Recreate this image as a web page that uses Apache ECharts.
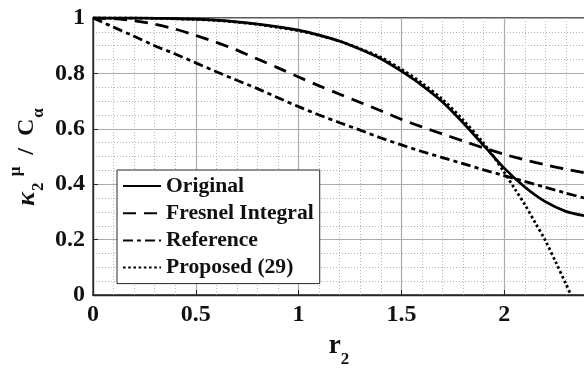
<!DOCTYPE html>
<html>
<head>
<meta charset="utf-8">
<script src="https://cdn.jsdelivr.net/npm/echarts@6/dist/echarts.min.js"></script>
<style>
  html, body { margin: 0; padding: 0; background: #fff; }
  #chart { width: 584px; height: 369px; }
</style>
</head>
<body>
<div id="chart"></div>
<script>
// Normalised curvature kappa_2^mu / C_alpha versus r_2 for four evaluations.
const rGrid = [0, 0.1, 0.2, 0.3, 0.4, 0.5, 0.6, 0.7, 0.8, 0.9, 1.0, 1.1, 1.2,
  1.3, 1.4, 1.5, 1.6, 1.7, 1.8, 1.9, 2.0, 2.1, 2.2, 2.3, 2.4];
const original = [1, 1, 1, 0.999, 0.998, 0.996, 0.992, 0.986, 0.978, 0.968,
  0.956, 0.938, 0.916, 0.887, 0.853, 0.808, 0.757, 0.697, 0.622, 0.540,
  0.458, 0.390, 0.337, 0.302, 0.285];
const fresnel = [1, 0.998, 0.990, 0.978, 0.960, 0.937, 0.912, 0.884, 0.852,
  0.820, 0.787, 0.755, 0.725, 0.695, 0.665, 0.634, 0.607, 0.581, 0.556,
  0.531, 0.508, 0.488, 0.470, 0.454, 0.440];
const reference = [1, 0.967, 0.934, 0.900, 0.870, 0.838, 0.806, 0.775, 0.745,
  0.712, 0.680, 0.650, 0.622, 0.595, 0.567, 0.542, 0.518, 0.496, 0.474,
  0.452, 0.431, 0.410, 0.389, 0.368, 0.348];
// The approximation (29) leaves the exact curve near r_2 = 2 and drops to zero.
const rProposed = [0, 0.1, 0.2, 0.3, 0.4, 0.5, 0.6, 0.7, 0.8, 0.9, 1.0, 1.1,
  1.2, 1.3, 1.4, 1.5, 1.6, 1.7, 1.8, 1.9, 1.95, 2.0, 2.05, 2.1, 2.15, 2.2,
  2.25, 2.3, 2.325];
const proposed = [1, 1, 1, 0.999, 0.997, 0.995, 0.991, 0.985, 0.977, 0.966,
  0.954, 0.937, 0.916, 0.889, 0.858, 0.815, 0.765, 0.706, 0.632, 0.548,
  0.498, 0.443, 0.385, 0.327, 0.262, 0.197, 0.120, 0.040, 0];
const xTicks = [0, 0.5, 1, 1.5, 2];
const yTicks = [0, 0.2, 0.4, 0.6, 0.8, 1];

const FONT = "'Liberation Serif', 'Times New Roman', serif";
const INK = '#111';
const pairs = (xs, ys) => xs.map((x, i) => [x, ys[i]]);

function lineSeries(name, xs, ys, dash) {
  return {
    name: name,
    type: 'line',
    data: pairs(xs, ys),
    showSymbol: false,
    symbol: 'none',
    smooth: 0.3,
    clip: true,
    lineStyle: { color: '#000', width: 2.8, type: dash, cap: 'butt' },
    itemStyle: { color: '#000' },
    emphasis: { disabled: true },
    animation: false
  };
}

const chart = echarts.init(document.getElementById('chart'), null, { renderer: 'canvas' });
chart.setOption({
  animation: false,
  backgroundColor: '#fff',
  // the axes run to r_2 = 2.5; the frame is wider than the canvas, so the view stops near 2.38
  grid: {
    left: 93, width: 514, top: 18, bottom: 74,
    outerBoundsMode: 'none', containLabel: false,
    show: true, borderColor: '#262626', borderWidth: 1.3, backgroundColor: 'transparent'
  },
  xAxis: {
    type: 'value', min: 0, max: 2.5, interval: 0.5,
    axisLine: { show: true, onZero: false, lineStyle: { color: '#262626', width: 1.3 } },
    axisTick: { show: true, inside: true, length: 5, lineStyle: { color: '#262626' } },
    axisLabel: {
      margin: 8, color: INK, fontFamily: FONT, fontWeight: 'bold', fontSize: 24,
      formatter: v => (xTicks.includes(Math.round(v * 10) / 10) ? String(v) : '')
    },
    splitLine: { show: true, lineStyle: { color: '#ababab', width: 1.2 } },
    minorTick: { show: false, splitNumber: 5 },
    minorSplitLine: { show: true, lineStyle: { color: '#b5b5b5', width: 1, type: [1, 2] } }
  },
  yAxis: {
    type: 'value', min: 0, max: 1, interval: 0.2,
    axisLine: { show: true, lineStyle: { color: '#262626', width: 1.3 } },
    axisTick: { show: true, inside: true, length: 5, lineStyle: { color: '#262626' } },
    axisLabel: {
      margin: 8, color: INK, fontFamily: FONT, fontWeight: 'bold', fontSize: 24,
      formatter: v => (yTicks.includes(Math.round(v * 10) / 10) ? String(Math.round(v * 10) / 10) : '')
    },
    splitLine: { show: true, lineStyle: { color: '#ababab', width: 1.2 } },
    minorTick: { show: false, splitNumber: 4 },
    minorSplitLine: { show: true, lineStyle: { color: '#b5b5b5', width: 1, type: [1, 2] } }
  },
  legend: {
    orient: 'vertical', left: 117, top: 170,
    padding: [5, 6, 5, 5], itemGap: 5.2, itemWidth: 38, itemHeight: 14,
    backgroundColor: '#fff', borderColor: '#262626', borderWidth: 1,
    selectedMode: false,
    itemStyle: { opacity: 0 },
    textStyle: { color: INK, fontFamily: FONT, fontWeight: 'bold', fontSize: 21.6, lineHeight: 21.5 },
    data: ['Original', 'Fresnel Integral', 'Reference', 'Proposed (29)']
  },
  graphic: [
    {
      type: 'text', x: 339, y: 346,
      style: {
        text: '{r|r}{s|2}', textAlign: 'center', textVerticalAlign: 'middle',
        fill: INK, font: 'bold 26px ' + FONT,
        rich: {
          r: { fontFamily: FONT, fontWeight: 'bold', fontSize: 27, lineHeight: 44, verticalAlign: 'middle', fill: INK },
          s: { fontFamily: FONT, fontWeight: 'bold', fontSize: 17, lineHeight: 12, verticalAlign: 'bottom', fill: INK }
        }
      }
    },
    {
      type: 'text', x: 27, y: 156, rotation: Math.PI / 2,
      style: {
        text: '{k|κ}{b|2}{p| μ}{n|  /  C}{b|α}', textAlign: 'center', textVerticalAlign: 'middle',
        fill: INK, font: 'bold 24px ' + FONT,
        rich: {
          k: { fontFamily: FONT, fontWeight: 'bold', fontStyle: 'italic', fontSize: 26, lineHeight: 40, verticalAlign: 'middle', fill: INK },
          n: { fontFamily: FONT, fontWeight: 'bold', fontSize: 24, lineHeight: 40, verticalAlign: 'middle', fill: INK },
          b: { fontFamily: FONT, fontWeight: 'bold', fontSize: 17, lineHeight: 26, verticalAlign: 'bottom', fill: INK, padding: [0, 2, 0, 1] },
          p: { fontFamily: FONT, fontWeight: 'bold', fontSize: 17, lineHeight: 12, verticalAlign: 'top', fill: INK }
        }
      }
    }
  ],
  series: [
    lineSeries('Original', rGrid, original, 'solid'),
    lineSeries('Fresnel Integral', rGrid, fresnel, [13, 8]),
    lineSeries('Reference', rGrid, reference, [10, 4, 4, 4]),
    lineSeries('Proposed (29)', rProposed, proposed, [2.6, 2.6])
  ]
});
</script>
</body>
</html>
